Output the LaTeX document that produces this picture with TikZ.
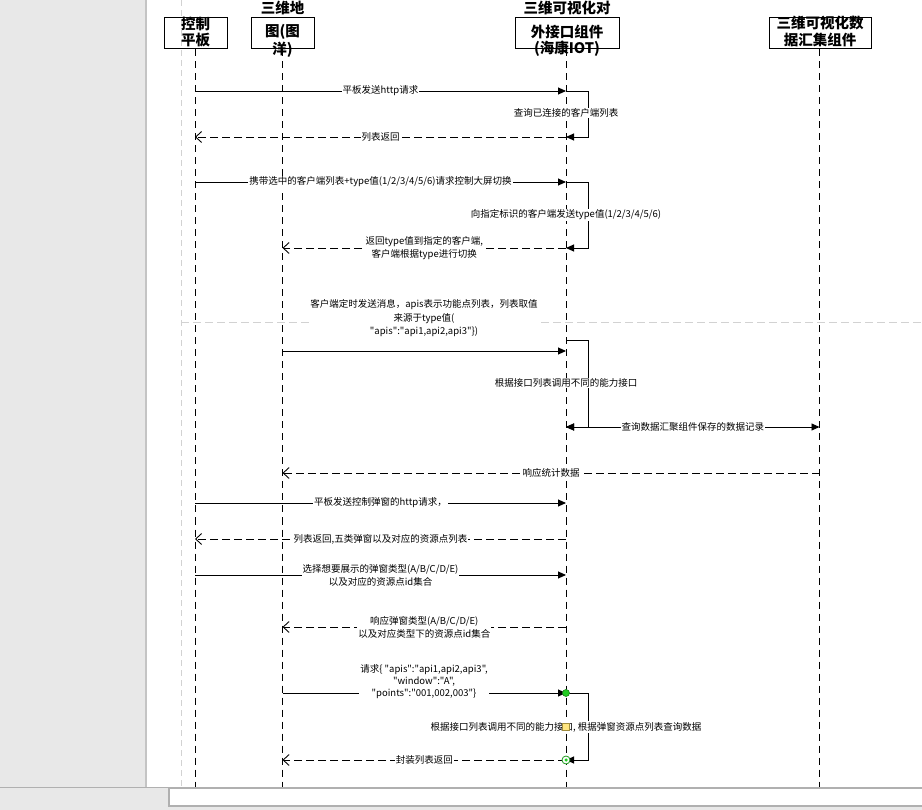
\documentclass[tikz,border=0pt]{standalone}
\usepackage{fontspec}
\setmainfont{Noto Sans CJK SC}[Ligatures=TeXOff]
\usetikzlibrary{arrows.meta}
\definecolor{panelgray}{HTML}{E8E8E8}
\definecolor{panelline}{HTML}{C4C4C4}
\definecolor{pageline}{HTML}{D2D2D2}
\definecolor{barline}{HTML}{B0B0B0}
\definecolor{dotgreen}{HTML}{22CC22}
\definecolor{dotgreenedge}{HTML}{1A8A1A}
\definecolor{handleyellow}{HTML}{FFE680}
\definecolor{handleedge}{HTML}{A08C3C}
\begin{document}
\begin{tikzpicture}[x=1pt,y=-1pt,
  headbox/.style={draw=black, line width=1pt, inner sep=0pt, minimum height=31pt},
  titletext/.style={font=\fontsize{14.5}{17}\selectfont\bfseries, inner sep=0pt},
  lifeline/.style={line width=0.9pt, dash pattern=on 7pt off 5pt},
  call/.style={line width=0.9pt, -{Triangle[length=8pt,width=7pt]}},
  both/.style={line width=0.9pt, {Triangle[length=8pt,width=7pt]}-{Triangle[length=8pt,width=7pt]}},
  loopline/.style={line width=0.9pt, -{Triangle[length=8pt,width=7pt]}},
  reply/.style={line width=0.9pt, dash pattern=on 8pt off 4pt, -{Straight Barb[length=6pt,width=11pt,line width=0.9pt]}},
  lbl/.style={font=\fontsize{9.5}{13}\selectfont, fill=white, inner sep=1pt, align=center},
]
\useasboundingbox (0,0) rectangle (922,810);
% ---------- editor background ----------
\fill[white] (0,0) rectangle (922,810);
\fill[panelgray] (0,0) rectangle (146,787);
\draw[panelline, line width=2pt] (146,0) -- (146,787);
\draw[pageline, line width=0.8pt, dash pattern=on 6pt off 4pt] (181,0) -- (181,787);
\draw[pageline, line width=0.8pt, dash pattern=on 8pt off 4pt] (181,322) -- (922,322);

% ---------- columns and rows ----------
\coordinate (L1) at (195,0);
\coordinate (L2) at (282.5,0);
\coordinate (L3) at (566,0);
\coordinate (L4) at (819.5,0);
\coordinate (LP) at (588,0);
\coordinate (Lbot) at (0,787);
\foreach \r in {91,113,137,182,215,248,340,351,383,427,473,503,539,575,627,693,727,760}
  \coordinate (r\r) at (0,\r);

% ---------- heads ----------
\node[headbox, minimum width=63pt] (h1) at (195.5,33.5) {};
\node[headbox, minimum width=63pt] (h2) at (282.5,33.5) {};
\node[headbox, minimum width=104pt] (h3) at (567,33.5) {};
\node[headbox, minimum width=102pt] (h4) at (820,33.5) {};

\node[titletext] (t1a) at (195.5,23.5) {控制};
\node[titletext] (t1b) at (195.5,40) {平板};
\node[titletext] (t2a) at (282.5,8) {三维地};
\node[titletext] (t2b) at (282.5,32) {图(图};
\node[titletext] (t2c) at (282.5,49.5) {洋)};
\node[titletext] (t3a) at (567,8) {三维可视化对};
\node[titletext] (t3b) at (567,31.5) {外接口组件};
\node[titletext] (t3c) at (567,49) {(海康IOT)};
\node[titletext] (t4a) at (820,23) {三维可视化数};
\node[titletext] (t4b) at (820,40) {据汇集组件};

% ---------- lifelines ----------
\draw[lifeline] (L1 |- h1.south) -- (L1 |- Lbot);
\draw[lifeline] (L2 |- h2.south) -- (L2 |- Lbot);
\draw[lifeline] (L3 |- h3.south) -- (L3 |- Lbot);
\draw[lifeline] (L4 |- h4.south) -- (L4 |- Lbot);

% ---------- messages ----------
\draw[call] (L1 |- r91) -- node[lbl] (m1) {平板发送http请求} (L3 |- r91);
\draw[loopline] (L3 |- r91) -- (LP |- r91) -- (LP |- r137) -- (L3 |- r137);
\node[lbl] (s1) at (L3 |- r113) {查询已连接的客户端列表};
\draw[reply] (L3 |- r137) -- node[lbl] (m2) {列表返回} (L1 |- r137);

\draw[call] (L1 |- r182) -- node[lbl] (m3) {携带选中的客户端列表+type值(1/2/3/4/5/6)请求控制大屏切换} (L3 |- r182);
\draw[loopline] (L3 |- r182) -- (LP |- r182) -- (LP |- r248) -- (L3 |- r248);
\node[lbl] (s2) at (L3 |- r215) {向指定标识的客户端发送type值(1/2/3/4/5/6)};
\draw[reply] (L3 |- r248) -- node[lbl] (m4) {返回type值到指定的客户端,\\客户端根据type进行切换} (L2 |- r248);

\node[lbl, font=\fontsize{9.5}{13.5}\selectfont] (m5) at (424,318.5) {客户端定时发送消息，apis表示功能点列表，列表取值\\来源于type值(\\"apis":"api1,api2,api3"\})};
\draw[call] (L2 |- r351) -- (L3 |- r351);
\draw[loopline] (L3 |- r340) -- (LP |- r340) -- (LP |- r427) -- (L3 |- r427);
\node[lbl] (s3) at (L3 |- r383) {根据接口列表调用不同的能力接口};
\draw[both] (L3 |- r427) -- node[lbl] (m6) {查询数据汇聚组件保存的数据记录} (L4 |- r427);
\draw[reply] (L4 |- r473) -- node[lbl] (m7) {响应统计数据} (L2 |- r473);

\draw[call] (L1 |- r503) -- node[lbl] (m8) {平板发送控制弹窗的http请求，} (L3 |- r503);
\draw[reply] (L3 |- r539) -- node[lbl] (m9) {列表返回,五类弹窗以及对应的资源点列表} (L1 |- r539);
\draw[call] (L1 |- r575) -- node[lbl] (m10) {选择想要展示的弹窗类型(A/B/C/D/E)\\以及对应的资源点id集合} (L3 |- r575);
\draw[reply] (L3 |- r627) -- node[lbl] (m11) {响应弹窗类型(A/B/C/D/E)\\以及对应类型下的资源点id集合} (L2 |- r627);

\draw[call] (L2 |- r693) -- (L3 |- r693);
\node[lbl, font=\fontsize{9.5}{11.7}\selectfont] (m12) at (424,681.7) {请求\{ "apis":"api1,api2,api3",\\"window":"A",\\"points":"001,002,003"\}};
\draw[loopline] (L3 |- r693) -- (LP |- r693) -- (LP |- r760) -- (L3 |- r760);
\node[lbl] (s4) at (L3 |- r727) {根据接口列表调用不同的能力接口, 根据弹窗资源点列表查询数据};
\draw[reply] (L3 |- r760) -- node[lbl] (m13) {封装列表返回} (L2 |- r760);

% ---------- selection handles ----------
\node[circle, fill=dotgreen, draw=dotgreenedge, line width=0.6pt, inner sep=0pt, minimum size=7pt] (g1) at (L3 |- r693) {};
\node[draw=handleedge, fill=handleyellow, line width=0.6pt, inner sep=0pt, minimum size=7pt] (hy) at (L3 |- r727) {};
\node[circle, fill=white, draw=dotgreen!75!black, line width=0.8pt, inner sep=0pt, minimum size=8pt] (g2) at (L3 |- r760) {};
\node[circle, fill=dotgreen, inner sep=0pt, minimum size=3.5pt] (g2c) at (g2.center) {};

% ---------- bottom bar ----------
\fill[panelgray] (0,787) rectangle (922,810);
\draw[barline, line width=1pt] (0,787) -- (922,787);
\draw[barline, fill=white, line width=1.2pt] (169,788.5) rectangle (923,806);
\end{tikzpicture}
\end{document}
